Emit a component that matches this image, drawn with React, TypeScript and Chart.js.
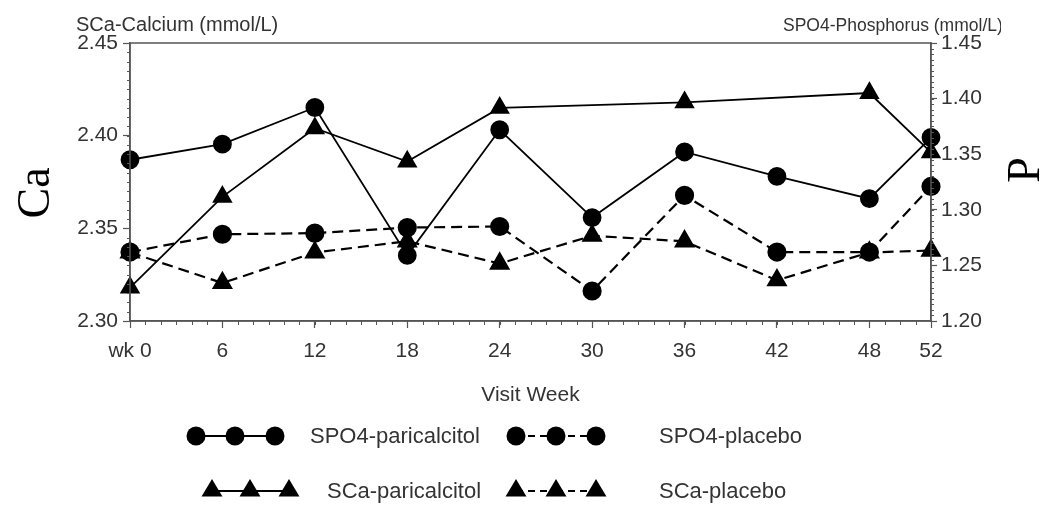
import React, { useEffect, useRef } from 'react';
import { Chart, registerables } from 'chart.js';

Chart.register(...registerables);

// ---- data ----
const weeks = [0, 6, 12, 18, 24, 30, 36, 42, 48, 52];
const weekLabels = ['wk 0', '6', '12', '18', '24', '30', '36', '42', '48', '52'];
const spo4Paricalcitol = [1.345, 1.359, 1.392, 1.259, 1.372, 1.293, 1.352, 1.33, 1.31, 1.365];
const spo4Placebo = [1.262, 1.278, 1.279, 1.284, 1.285, 1.227, 1.313, 1.262, 1.262, 1.321];
const scaParicalcitol = [2.318, 2.367, 2.404, 2.386, 2.415, null, 2.418, null, 2.423, 2.391];
const scaPlacebo = [2.337, 2.3205, 2.337, 2.343, 2.331, 2.346, 2.343, 2.322, 2.337, 2.338];
const caTicks = [2.3, 2.35, 2.4, 2.45];
const pTicks = [1.2, 1.25, 1.3, 1.35, 1.4, 1.45];
const legendLabels = ['SPO4-paricalcitol', 'SPO4-placebo', 'SCa-paricalcitol', 'SCa-placebo'];

const TEXT = '#333';
const AXIS = '#555';
const SANS = '"Liberation Sans", Arial, sans-serif';
const SERIF = '"Liberation Serif", "Times New Roman", serif';

const toPts = (arr: (number | null)[]) => weeks.map((w, i) => ({ x: w, y: arr[i] }));

function drawTri(ctx: CanvasRenderingContext2D, x: number, y: number, r: number) {
  ctx.beginPath();
  ctx.moveTo(x, y - r);
  ctx.lineTo(x + r * 0.95, y + r * 0.6);
  ctx.lineTo(x - r * 0.95, y + r * 0.6);
  ctx.closePath();
  ctx.fill();
}

const decor = {
  id: 'decor',
  afterDraw(chart: any) {
    const { ctx, chartArea, scales } = chart;
    const { left, right, top, bottom } = chartArea;
    ctx.save();
    // frame
    ctx.strokeStyle = AXIS;
    ctx.lineWidth = 1.5;
    ctx.strokeRect(left, top, right - left, bottom - top);
    // minor ticks
    ctx.lineWidth = 1;
    ctx.beginPath();
    const xs = scales.x;
    for (let w = 0; w <= 52; w++) {
      const px = Math.round(xs.getPixelForValue(w)) + 0.5;
      ctx.moveTo(px, bottom);
      ctx.lineTo(px, bottom + 4);
    }
    const yc = scales.yCa;
    for (let k = 0; k <= 30; k++) {
      const v = 2.3 + k * 0.005;
      const py = Math.round(yc.getPixelForValue(v)) + 0.5;
      ctx.moveTo(left, py);
      ctx.lineTo(left - 3, py);
    }
    const yp = scales.yP;
    for (let k = 0; k <= 50; k++) {
      const v = 1.2 + k * 0.005;
      const py = Math.round(yp.getPixelForValue(v)) + 0.5;
      ctx.moveTo(right, py);
      ctx.lineTo(right + 3, py);
    }
    ctx.stroke();

    // axis titles at top
    ctx.fillStyle = TEXT;
    ctx.font = `20px ${SANS}`;
    ctx.textBaseline = 'alphabetic';
    ctx.textAlign = 'left';
    ctx.fillText('SCa-Calcium (mmol/L)', 76, 31);
    ctx.save();
    ctx.beginPath();
    ctx.rect(700, 0, 301, 40);
    ctx.clip();
    ctx.font = `17.5px ${SANS}`;
    ctx.fillText('SPO4-Phosphorus (mmol/L)', 783, 31);
    ctx.restore();

    // big rotated labels
    ctx.fillStyle = '#000';
    ctx.font = `46px ${SERIF}`;
    ctx.textAlign = 'center';
    ctx.textBaseline = 'middle';
    ctx.save();
    ctx.translate(37, 193);
    ctx.rotate(-Math.PI / 2);
    ctx.fillText('Ca', 0, 0);
    ctx.restore();
    ctx.save();
    ctx.translate(1027, 170);
    ctx.rotate(-Math.PI / 2);
    ctx.fillText('P', 0, 0);
    ctx.restore();

    // legend
    const ds = chart.data.datasets;
    const rows = [
      { y: 436, sx: [196, 235, 275], tx: 310, d: 0 },
      { y: 436, sx: [516, 556, 596], tx: 659, d: 1 },
      { y: 491, sx: [212, 250, 289], tx: 327, d: 2 },
      { y: 491, sx: [516, 556, 596], tx: 659, d: 3 },
    ];
    rows.forEach((r) => {
      const d = ds[r.d];
      ctx.strokeStyle = '#000';
      ctx.fillStyle = '#000';
      ctx.lineWidth = 2;
      ctx.setLineDash(d.borderDash && d.borderDash.length ? [7, 5] : []);
      for (let i = 0; i < r.sx.length - 1; i++) {
        ctx.beginPath();
        ctx.moveTo(r.sx[i], r.y);
        ctx.lineTo(r.sx[i + 1], r.y);
        ctx.stroke();
      }
      ctx.setLineDash([]);
      r.sx.forEach((x) => {
        if (d.pointStyle === 'triangle') {
          drawTri(ctx, x, r.y - 1, 11);
        } else {
          ctx.beginPath();
          ctx.arc(x, r.y, 9.5, 0, Math.PI * 2);
          ctx.fill();
        }
      });
      ctx.fillStyle = TEXT;
      ctx.font = `22px ${SANS}`;
      ctx.textAlign = 'left';
      ctx.textBaseline = 'middle';
      ctx.fillText(d.label, r.tx, r.y + 1);
    });
    ctx.restore();
  },
};

export default function App() {
  const ref = useRef<HTMLCanvasElement>(null);
  useEffect(() => {
    if (!ref.current) return;
    const common = {
      borderColor: '#000',
      backgroundColor: '#000',
      pointBorderColor: '#000',
      pointBackgroundColor: '#000',
      clip: false as any,
      spanGaps: true,
      tension: 0,
    };
    const chart = new Chart(ref.current, {
      type: 'line',
      data: {
        datasets: [
          {
            ...common,
            label: legendLabels[0],
            data: toPts(spo4Paricalcitol),
            yAxisID: 'yP',
            borderWidth: 1.8,
            pointStyle: 'circle',
            pointRadius: 8.5,
          },
          {
            ...common,
            label: legendLabels[1],
            data: toPts(spo4Placebo),
            yAxisID: 'yP',
            borderWidth: 2.2,
            borderDash: [11, 6],
            pointStyle: 'circle',
            pointRadius: 8.5,
          },
          {
            ...common,
            label: legendLabels[2],
            data: toPts(scaParicalcitol),
            yAxisID: 'yCa',
            borderWidth: 1.8,
            pointStyle: 'triangle',
            pointRadius: 10,
          },
          {
            ...common,
            label: legendLabels[3],
            data: toPts(scaPlacebo),
            yAxisID: 'yCa',
            borderWidth: 2.2,
            borderDash: [11, 6],
            pointStyle: 'triangle',
            pointRadius: 10,
          },
        ] as any,
      },
      options: {
        animation: false,
        responsive: true,
        maintainAspectRatio: false,
        layout: { padding: { top: 43, left: 0, right: 0, bottom: 0 } },
        plugins: { legend: { display: false }, tooltip: { enabled: false } },
        scales: {
          x: {
            type: 'linear',
            position: 'bottom',
            min: 0,
            max: 52,
            afterBuildTicks: (s: any) => {
              s.ticks = weeks.map((v) => ({ value: v }));
            },
            afterFit: (s: any) => {
              s.height = 184;
            },
            ticks: {
              color: TEXT,
              font: { family: SANS, size: 21 },
              padding: 11,
              maxRotation: 0,
              autoSkip: false,
              callback: (v: any) => weekLabels[weeks.indexOf(Number(v))] ?? '',
            },
            grid: { drawOnChartArea: false, tickLength: 7, tickColor: AXIS, tickWidth: 1.2 },
            border: { color: AXIS, width: 1.5 },
            title: {
              display: true,
              text: 'Visit Week',
              color: TEXT,
              font: { family: SANS, size: 21 },
              padding: { top: 0, bottom: 97 },
            },
          },
          yCa: {
            type: 'linear',
            position: 'left',
            min: 2.3,
            max: 2.45,
            afterBuildTicks: (s: any) => {
              s.ticks = caTicks.map((v) => ({ value: v }));
            },
            afterFit: (s: any) => {
              s.width = 130;
            },
            ticks: {
              color: TEXT,
              font: { family: SANS, size: 21 },
              padding: 5,
              callback: (v: any) => Number(v).toFixed(2),
            },
            grid: { drawOnChartArea: false, tickLength: 7, tickColor: AXIS, tickWidth: 1.2 },
            border: { color: AXIS, width: 1.5 },
          },
          yP: {
            type: 'linear',
            position: 'right',
            min: 1.2,
            max: 1.45,
            afterBuildTicks: (s: any) => {
              s.ticks = pTicks.map((v) => ({ value: v }));
            },
            afterFit: (s: any) => {
              s.width = 118;
            },
            ticks: {
              color: TEXT,
              font: { family: SANS, size: 21 },
              padding: 4,
              callback: (v: any) => Number(v).toFixed(2),
            },
            grid: { drawOnChartArea: false, tickLength: 6, tickColor: AXIS, tickWidth: 1.2 },
            border: { color: AXIS, width: 1.5 },
          },
        },
      } as any,
      plugins: [decor],
    });
    return () => chart.destroy();
  }, []);

  return (
    <div style={{ position: 'fixed', left: 0, top: 0, width: 1049, height: 505, background: '#fff' }}>
      <canvas ref={ref} />
    </div>
  );
}
